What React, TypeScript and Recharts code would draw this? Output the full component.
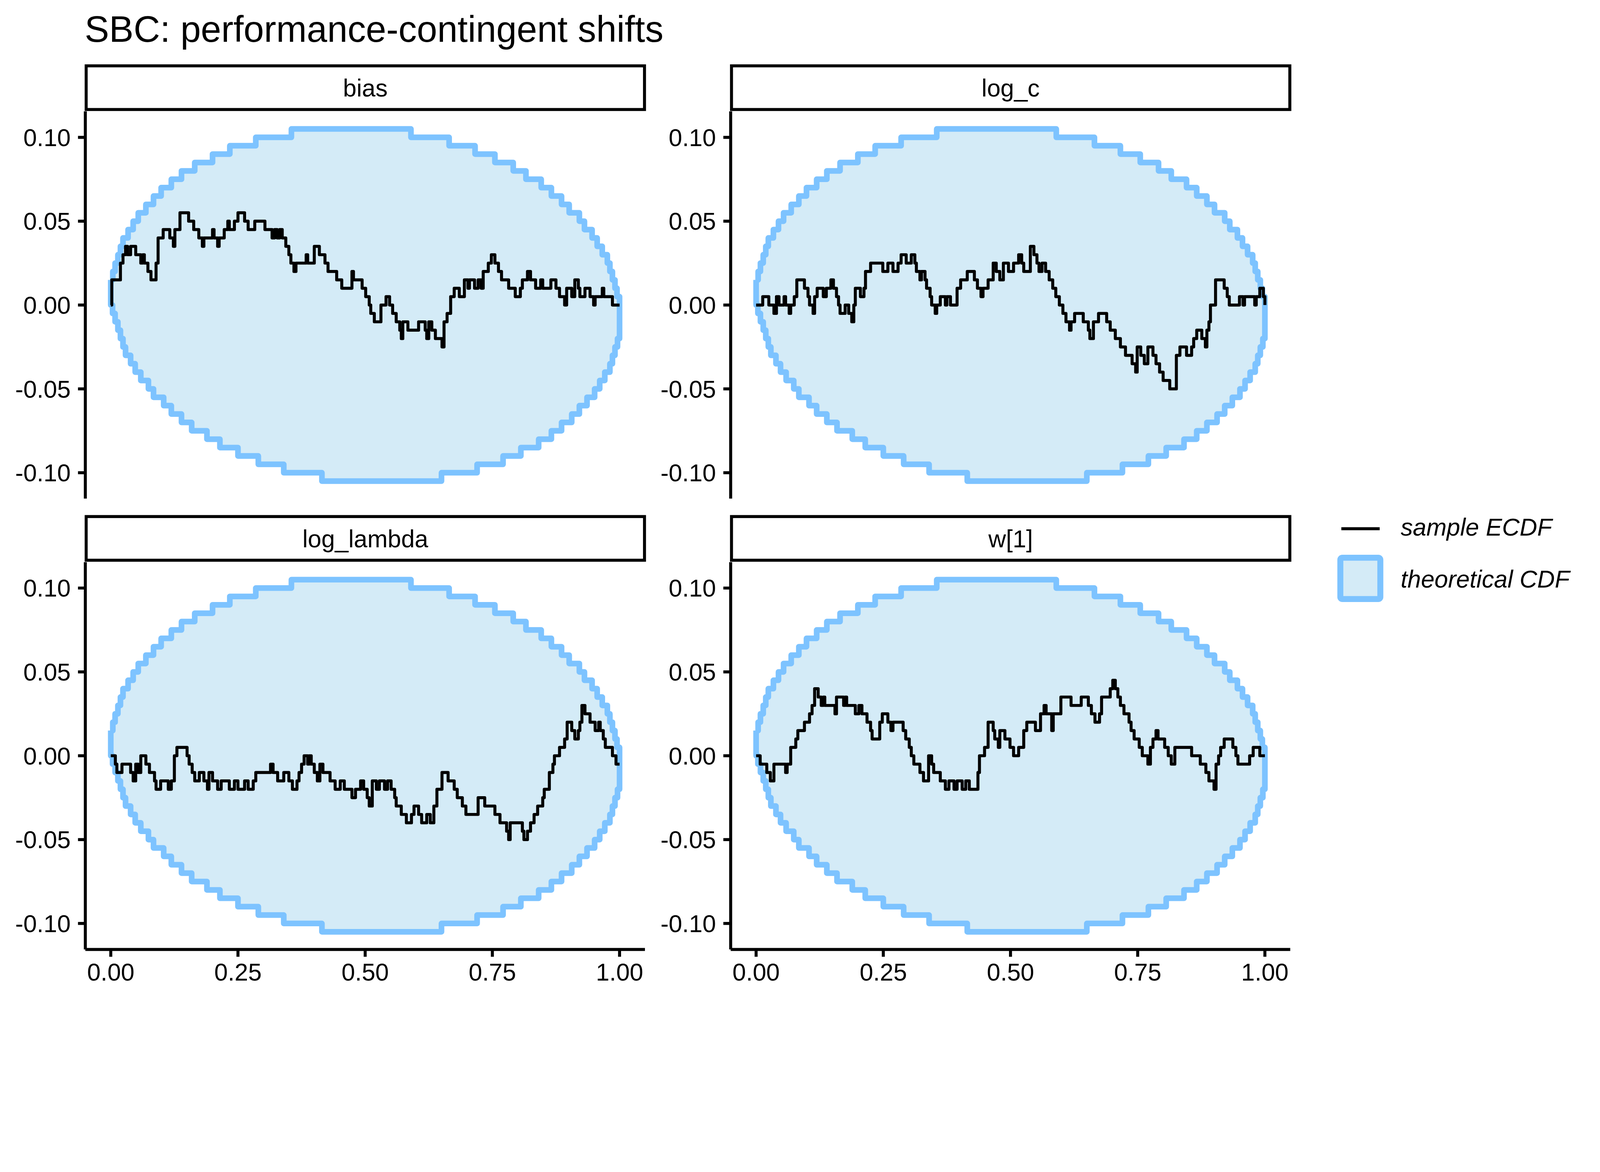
import React from 'react';
import { ComposedChart, Area, Line, XAxis, YAxis } from 'recharts';

type Step = [number, number];

const chartTitle = 'SBC: performance-contingent shifts';
const facetNames = ['bias', 'log_c', 'log_lambda', 'w[1]'];
const xTicks = [0, 0.25, 0.5, 0.75, 1];
const yTicks = [-0.1, -0.05, 0, 0.05, 0.1];
const legendLabels = ['sample ECDF', 'theoretical CDF'];

// theoretical CDF band (same in every facet), [x, value] step starts
const upperSteps: Step[] = [
  [0, 0.015], [0.004, 0.02], [0.0085, 0.025], [0.014, 0.03], [0.019, 0.035], [0.024, 0.04],
  [0.034, 0.045], [0.044, 0.05], [0.054, 0.055], [0.069, 0.06], [0.084, 0.065], [0.099, 0.07],
  [0.119, 0.075], [0.139, 0.08], [0.165, 0.085], [0.2, 0.09], [0.234, 0.095], [0.285, 0.1],
  [0.355, 0.105], [0.59, 0.1], [0.665, 0.095], [0.716, 0.09], [0.755, 0.085], [0.791, 0.08],
  [0.816, 0.075], [0.846, 0.07], [0.866, 0.065], [0.886, 0.06], [0.901, 0.055], [0.921, 0.05],
  [0.931, 0.045], [0.946, 0.04], [0.956, 0.035], [0.966, 0.03], [0.976, 0.025], [0.981, 0.02],
  [0.986, 0.015], [0.991, 0.01], [0.995, 0.005], [1, 0],
];
const lowerSteps: Step[] = [
  [0, 0], [0.0035, -0.005], [0.0085, -0.01], [0.014, -0.015], [0.019, -0.02], [0.024, -0.025],
  [0.029, -0.03], [0.039, -0.035], [0.048, -0.04], [0.059, -0.045], [0.074, -0.05], [0.084, -0.055],
  [0.104, -0.06], [0.119, -0.065], [0.139, -0.07], [0.159, -0.075], [0.189, -0.08], [0.2145, -0.085],
  [0.25, -0.09], [0.29, -0.095], [0.34, -0.1], [0.415, -0.105], [0.65, -0.1], [0.72, -0.095],
  [0.771, -0.09], [0.806, -0.085], [0.841, -0.08], [0.866, -0.075], [0.886, -0.07], [0.906, -0.065],
  [0.921, -0.06], [0.936, -0.055], [0.951, -0.05], [0.961, -0.045], [0.971, -0.04], [0.981, -0.035],
  [0.986, -0.03], [0.991, -0.025], [0.996, -0.02], [1, -0.02],
];

// sample ECDF differences, one per facet
const biasSteps: Step[] = [
  [0, 0], [0.002, 0.015], [0.019, 0.025], [0.024, 0.03], [0.029, 0.035], [0.033, 0.03], [0.039, 0.035],
  [0.049, 0.03], [0.059, 0.025], [0.063, 0.03], [0.066, 0.025], [0.073, 0.02], [0.079, 0.015],
  [0.089, 0.025], [0.093, 0.04], [0.103, 0.045], [0.116, 0.04], [0.123, 0.035], [0.126, 0.045],
  [0.136, 0.055], [0.153, 0.05], [0.163, 0.045], [0.173, 0.04], [0.18, 0.035], [0.183, 0.04],
  [0.2, 0.045], [0.203, 0.04], [0.21, 0.035], [0.213, 0.04], [0.223, 0.045], [0.23, 0.05],
  [0.233, 0.045], [0.243, 0.05], [0.25, 0.055], [0.263, 0.05], [0.27, 0.045], [0.283, 0.05],
  [0.303, 0.045], [0.317, 0.04], [0.322, 0.045], [0.327, 0.04], [0.332, 0.045], [0.337, 0.04],
  [0.344, 0.035], [0.35, 0.03], [0.354, 0.025], [0.36, 0.02], [0.364, 0.025], [0.384, 0.03],
  [0.387, 0.025], [0.4, 0.035], [0.41, 0.03], [0.421, 0.025], [0.427, 0.02], [0.444, 0.015],
  [0.454, 0.01], [0.474, 0.02], [0.477, 0.015], [0.494, 0.01], [0.501, 0.005], [0.508, 0],
  [0.511, -0.005], [0.518, -0.01], [0.531, 0], [0.541, 0.005], [0.548, 0], [0.554, -0.005],
  [0.561, -0.01], [0.568, -0.015], [0.571, -0.02], [0.574, -0.01], [0.584, -0.015], [0.605, -0.01],
  [0.618, -0.015], [0.621, -0.02], [0.625, -0.01], [0.631, -0.015], [0.638, -0.02], [0.651, -0.025],
  [0.655, -0.01], [0.661, -0.005], [0.668, 0.005], [0.675, 0.01], [0.685, 0.005], [0.695, 0.015],
  [0.702, 0.01], [0.705, 0.015], [0.715, 0.01], [0.722, 0.015], [0.728, 0.01], [0.732, 0.02],
  [0.742, 0.025], [0.748, 0.03], [0.755, 0.025], [0.762, 0.02], [0.768, 0.015], [0.782, 0.01],
  [0.795, 0.005], [0.805, 0.01], [0.809, 0.015], [0.819, 0.02], [0.825, 0.015], [0.835, 0.01],
  [0.845, 0.015], [0.849, 0.01], [0.865, 0.015], [0.875, 0.01], [0.882, 0.005], [0.892, 0],
  [0.896, 0.01], [0.906, 0.005], [0.912, 0.015], [0.919, 0.01], [0.922, 0.005], [0.932, 0.01],
  [0.942, 0.005], [0.949, 0], [0.952, 0.005], [0.966, 0.01], [0.969, 0.005], [0.986, 0], [1, 0],
];
const logCSteps: Step[] = [
  [0, 0], [0.013, 0.005], [0.025, 0], [0.035, -0.005], [0.04, 0.005], [0.045, 0], [0.055, 0.005],
  [0.058, 0], [0.065, -0.005], [0.068, 0], [0.075, 0.005], [0.08, 0.015], [0.095, 0.01],
  [0.102, 0.005], [0.105, 0], [0.112, -0.005], [0.115, 0.005], [0.12, 0.01], [0.132, 0.005],
  [0.138, 0.01], [0.147, 0.015], [0.152, 0.01], [0.158, 0.005], [0.162, 0], [0.165, -0.005],
  [0.175, 0], [0.182, -0.005], [0.188, -0.01], [0.192, 0], [0.195, 0.01], [0.205, 0.005],
  [0.212, 0.01], [0.215, 0.02], [0.225, 0.025], [0.249, 0.02], [0.259, 0.025], [0.269, 0.02],
  [0.279, 0.025], [0.285, 0.03], [0.295, 0.025], [0.305, 0.03], [0.312, 0.025], [0.315, 0.02],
  [0.322, 0.015], [0.325, 0.02], [0.332, 0.015], [0.335, 0.01], [0.342, 0.005], [0.345, 0],
  [0.352, -0.005], [0.355, 0], [0.362, 0.005], [0.372, 0], [0.375, 0.005], [0.382, 0],
  [0.395, 0.01], [0.402, 0.015], [0.415, 0.02], [0.429, 0.015], [0.435, 0.01], [0.442, 0.005],
  [0.446, 0.01], [0.456, 0.015], [0.466, 0.025], [0.472, 0.02], [0.479, 0.015], [0.486, 0.025],
  [0.496, 0.02], [0.506, 0.025], [0.516, 0.03], [0.522, 0.025], [0.526, 0.02], [0.539, 0.035],
  [0.546, 0.03], [0.552, 0.025], [0.556, 0.02], [0.562, 0.025], [0.569, 0.02], [0.576, 0.015],
  [0.583, 0.01], [0.589, 0.005], [0.596, 0], [0.603, -0.005], [0.609, -0.01], [0.616, -0.015],
  [0.619, -0.01], [0.626, -0.005], [0.643, -0.01], [0.653, -0.015], [0.656, -0.02], [0.663, -0.01],
  [0.673, -0.005], [0.689, -0.01], [0.696, -0.015], [0.706, -0.02], [0.716, -0.025], [0.726, -0.03],
  [0.739, -0.035], [0.746, -0.04], [0.749, -0.025], [0.756, -0.03], [0.763, -0.035], [0.77, -0.025],
  [0.78, -0.03], [0.786, -0.035], [0.793, -0.04], [0.8, -0.045], [0.813, -0.05], [0.826, -0.03],
  [0.833, -0.025], [0.846, -0.03], [0.856, -0.025], [0.86, -0.02], [0.866, -0.015], [0.876, -0.02],
  [0.883, -0.025], [0.886, -0.015], [0.89, -0.01], [0.893, 0], [0.903, 0.015], [0.92, 0.01],
  [0.926, 0.005], [0.93, 0], [0.95, 0.005], [0.957, 0], [0.96, 0.005], [0.98, 0], [0.983, 0.005],
  [0.99, 0.01], [0.997, 0.005], [1, 0],
];
const logLambdaSteps: Step[] = [
  [0, 0], [0.009, -0.005], [0.012, -0.01], [0.022, -0.005], [0.039, -0.01], [0.044, -0.015],
  [0.049, -0.005], [0.054, -0.01], [0.059, 0], [0.069, -0.005], [0.076, -0.01], [0.086, -0.015],
  [0.089, -0.02], [0.098, -0.015], [0.113, -0.02], [0.119, -0.015], [0.125, 0], [0.13, 0.005],
  [0.15, 0], [0.154, -0.005], [0.16, -0.01], [0.165, -0.015], [0.174, -0.01], [0.183, -0.015],
  [0.19, -0.02], [0.193, -0.01], [0.2, -0.015], [0.21, -0.02], [0.217, -0.015], [0.233, -0.02],
  [0.243, -0.015], [0.25, -0.02], [0.263, -0.015], [0.27, -0.02], [0.28, -0.015], [0.285, -0.01],
  [0.314, -0.005], [0.319, -0.01], [0.328, -0.015], [0.34, -0.01], [0.35, -0.015], [0.357, -0.02],
  [0.366, -0.015], [0.37, -0.01], [0.375, -0.005], [0.38, 0], [0.387, -0.005], [0.39, 0],
  [0.394, -0.005], [0.4, -0.01], [0.406, -0.015], [0.411, -0.005], [0.417, -0.01], [0.431, -0.015],
  [0.441, -0.02], [0.451, -0.015], [0.459, -0.02], [0.474, -0.025], [0.481, -0.02], [0.491, -0.015],
  [0.497, -0.02], [0.504, -0.025], [0.508, -0.03], [0.514, -0.015], [0.522, -0.02], [0.528, -0.015],
  [0.538, -0.02], [0.544, -0.015], [0.551, -0.02], [0.558, -0.025], [0.561, -0.03], [0.571, -0.035],
  [0.581, -0.04], [0.591, -0.035], [0.596, -0.03], [0.605, -0.035], [0.611, -0.04], [0.621, -0.035],
  [0.628, -0.04], [0.635, -0.03], [0.641, -0.02], [0.651, -0.01], [0.663, -0.015], [0.675, -0.02],
  [0.681, -0.025], [0.691, -0.03], [0.698, -0.035], [0.722, -0.025], [0.735, -0.03], [0.755, -0.035],
  [0.765, -0.04], [0.778, -0.045], [0.782, -0.05], [0.785, -0.04], [0.809, -0.045], [0.812, -0.05],
  [0.819, -0.045], [0.825, -0.04], [0.832, -0.035], [0.839, -0.03], [0.849, -0.025], [0.852, -0.02],
  [0.862, -0.01], [0.869, -0.005], [0.872, 0], [0.882, 0.005], [0.892, 0.01], [0.897, 0.02],
  [0.906, 0.015], [0.912, 0.01], [0.919, 0.015], [0.922, 0.02], [0.926, 0.03], [0.932, 0.025],
  [0.942, 0.02], [0.952, 0.015], [0.959, 0.02], [0.962, 0.015], [0.968, 0.01], [0.972, 0.005],
  [0.986, 0], [0.993, -0.005], [1, -0.005],
];
const w1Steps: Step[] = [
  [0, 0], [0.008, -0.005], [0.021, -0.01], [0.028, -0.015], [0.035, -0.005], [0.058, -0.01],
  [0.061, -0.005], [0.068, 0.005], [0.078, 0.01], [0.082, 0.015], [0.095, 0.02], [0.105, 0.025],
  [0.11, 0.03], [0.115, 0.04], [0.122, 0.035], [0.128, 0.03], [0.132, 0.035], [0.135, 0.03],
  [0.155, 0.025], [0.158, 0.035], [0.172, 0.03], [0.175, 0.035], [0.178, 0.03], [0.195, 0.025],
  [0.202, 0.03], [0.208, 0.025], [0.218, 0.02], [0.225, 0.015], [0.228, 0.01], [0.243, 0.02],
  [0.248, 0.025], [0.259, 0.02], [0.265, 0.015], [0.269, 0.02], [0.289, 0.015], [0.294, 0.01],
  [0.301, 0.005], [0.305, 0], [0.31, -0.005], [0.322, -0.01], [0.329, -0.015], [0.339, 0],
  [0.345, -0.005], [0.349, -0.01], [0.362, -0.015], [0.372, -0.02], [0.379, -0.015], [0.389, -0.02],
  [0.395, -0.015], [0.405, -0.02], [0.412, -0.015], [0.419, -0.02], [0.436, -0.01], [0.439, 0],
  [0.449, 0.005], [0.456, 0.02], [0.466, 0.015], [0.469, 0.01], [0.476, 0.005], [0.479, 0.015],
  [0.489, 0.01], [0.499, 0.005], [0.506, 0], [0.516, 0.005], [0.526, 0.015], [0.532, 0.02],
  [0.549, 0.015], [0.559, 0.025], [0.566, 0.03], [0.57, 0.025], [0.581, 0.015], [0.584, 0.025],
  [0.599, 0.035], [0.619, 0.03], [0.639, 0.035], [0.653, 0.03], [0.659, 0.025], [0.666, 0.02],
  [0.675, 0.025], [0.679, 0.035], [0.696, 0.04], [0.701, 0.045], [0.706, 0.04], [0.711, 0.035],
  [0.716, 0.03], [0.723, 0.025], [0.733, 0.02], [0.737, 0.015], [0.743, 0.01], [0.753, 0.005],
  [0.759, 0], [0.77, -0.005], [0.775, 0.005], [0.78, 0.01], [0.786, 0.015], [0.79, 0.01],
  [0.803, 0.005], [0.81, 0], [0.816, -0.005], [0.823, 0.005], [0.856, 0], [0.873, -0.005],
  [0.884, -0.01], [0.89, -0.015], [0.9, -0.02], [0.904, -0.005], [0.909, 0], [0.913, 0.005],
  [0.92, 0.01], [0.937, 0.005], [0.943, 0], [0.947, -0.005], [0.97, 0], [0.977, 0.005],
  [0.99, 0], [1, 0],
];

const facetSteps = [biasSteps, logCSteps, logLambdaSteps, w1Steps];

const FONT = '"Liberation Sans", Arial, Helvetica, sans-serif';
const BAND_FILL = '#d4ebf7';
const BAND_LINE = '#7dc3ff';

// layout of one facet panel, in 4800x3000 canvas px
const CANVAS_W = 4800;
const CANVAS_H = 3000;
const PLOT_W = 1679;
const PLOT_H = 1162;
const Y_AXIS_W = 256;
const X_AXIS_H = 130;
const COL_X = [256, 2192];
const ROW_Y = [334, 1686];

const stepValue = (steps: Step[], x: number) => {
  let v = steps[0][1];
  for (const [sx, sy] of steps) {
    if (sx <= x) v = sy;
    else break;
  }
  return v;
};

// ribbon table for the ranged area
const bandX = Array.from(new Set([...upperSteps, ...lowerSteps].map((s) => s[0]))).sort((a, b) => a - b);
const bandFill = bandX.map((x) => ({ x, range: [stepValue(lowerSteps, x), stepValue(upperSteps, x)] }));

// corner points of a step path, so the outline can be drawn as one closed line
const corners = (steps: Step[]) => {
  const pts = [{ x: steps[0][0], y: steps[0][1] }];
  for (let i = 1; i < steps.length; i++) {
    pts.push({ x: steps[i][0], y: steps[i - 1][1] });
    pts.push({ x: steps[i][0], y: steps[i][1] });
  }
  return pts;
};
const bandOutline = [
  ...corners(upperSteps),
  ...corners(lowerSteps).reverse(),
  { x: upperSteps[0][0], y: upperSteps[0][1] },
];

const fmt = (v: number) => v.toFixed(2);

function Facet({ steps, left, top, showX }: { steps: Step[]; left: number; top: number; showX: boolean }) {
  const data = steps.map(([x, y]) => ({ x, y }));
  return (
    <div style={{ position: 'absolute', left: left - Y_AXIS_W, top }}>
      <ComposedChart
        width={Y_AXIS_W + PLOT_W}
        height={PLOT_H + (showX ? X_AXIS_H : 0)}
        margin={{ top: 0, right: 0, bottom: 0, left: 0 }}
      >
        <XAxis
          dataKey="x"
          type="number"
          domain={[-0.05, 1.05]}
          allowDataOverflow
          ticks={xTicks}
          interval={0}
          tickFormatter={fmt}
          hide={!showX}
          height={X_AXIS_H}
          axisLine={{ stroke: '#000', strokeWidth: 9 }}
          tickLine={{ stroke: '#000', strokeWidth: 9 }}
          tickSize={22}
          tickMargin={20}
          tick={{ fill: '#000', fontSize: 73, fontFamily: FONT }}
        />
        <YAxis
          type="number"
          domain={[-0.1155, 0.1155]}
          allowDataOverflow
          ticks={yTicks}
          interval={0}
          tickFormatter={fmt}
          width={Y_AXIS_W}
          axisLine={{ stroke: '#000', strokeWidth: 9 }}
          tickLine={{ stroke: '#000', strokeWidth: 9 }}
          tickSize={22}
          tickMargin={22}
          tick={{ fill: '#000', fontSize: 73, fontFamily: FONT }}
        />
        <Area
          data={bandFill}
          dataKey="range"
          type="stepAfter"
          stroke="none"
          fill={BAND_FILL}
          fillOpacity={1}
          isAnimationActive={false}
        />
        <Line
          data={bandOutline}
          dataKey="y"
          type="linear"
          stroke={BAND_LINE}
          strokeWidth={17}
          strokeLinejoin="round"
          dot={false}
          activeDot={false}
          isAnimationActive={false}
        />
        <Line
          data={data}
          dataKey="y"
          type="stepAfter"
          stroke="#000"
          strokeWidth={9}
          strokeLinejoin="round"
          dot={false}
          activeDot={false}
          isAnimationActive={false}
        />
      </ComposedChart>
    </div>
  );
}

export default function App() {
  // the canvas is laid out in 4800px units; shrink it to the real viewport width
  const viewW = typeof window !== 'undefined' && window.innerWidth ? window.innerWidth : CANVAS_W;
  const scale = Math.min(1, viewW / CANVAS_W);
  return (
    <div style={{ position: 'relative', width: CANVAS_W * scale, height: CANVAS_H * scale, overflow: 'hidden', background: '#fff' }}>
      <style>{'body{margin:0}'}</style>
      <div
        style={{
          position: 'absolute',
          left: 0,
          top: 0,
          width: CANVAS_W,
          height: CANVAS_H,
          transform: `scale(${scale})`,
          transformOrigin: '0 0',
          fontFamily: FONT,
        }}
      >
        {facetSteps.map((steps, i) => (
          <Facet key={facetNames[i]} steps={steps} left={COL_X[i % 2]} top={ROW_Y[Math.floor(i / 2)]} showX={i >= 2} />
        ))}
        <svg width={CANVAS_W} height={CANVAS_H} style={{ position: 'absolute', left: 0, top: 0, pointerEvents: 'none' }}>
          <text x={254} y={125} fontSize={110} fontFamily={FONT} fill="#000">
            {chartTitle}
          </text>
          {facetNames.map((name, i) => {
            const x0 = COL_X[i % 2] - 2;
            const y0 = ROW_Y[Math.floor(i / 2)] - 141;
            return (
              <g key={name}>
                <rect x={x0 + 4.5} y={y0 + 4.5} width={1684 - 9} height={140 - 9} fill="#fff" stroke="#000" strokeWidth={9} />
                <text x={x0 + 842} y={y0 + 97} textAnchor="middle" fontSize={73} fontFamily={FONT} fill="#000">
                  {name}
                </text>
              </g>
            );
          })}
          <line x1={4024} x2={4139} y1={1586} y2={1586} stroke="#000" strokeWidth={9} />
          <text x={4202} y={1607} fontSize={73} fontStyle="italic" fontFamily={FONT} fill="#000">
            {legendLabels[0]}
          </text>
          <rect x={4021} y={1673} width={120} height={124} rx={6} fill={BAND_FILL} stroke={BAND_LINE} strokeWidth={18} />
          <text x={4202} y={1762} fontSize={73} fontStyle="italic" fontFamily={FONT} fill="#000">
            {legendLabels[1]}
          </text>
        </svg>
      </div>
    </div>
  );
}
